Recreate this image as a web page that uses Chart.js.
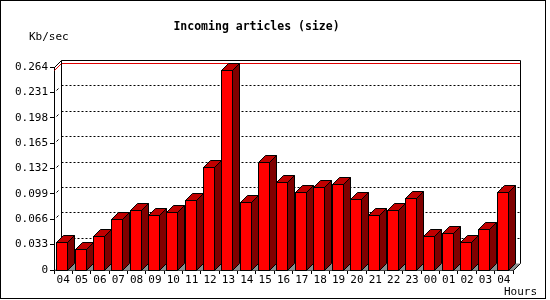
<!DOCTYPE html>
<html>
<head>
<meta charset="utf-8">
<script src="https://cdn.jsdelivr.net/npm/chart.js@4.4.1/dist/chart.umd.min.js"></script>
<style>
html, body { margin: 0; padding: 0; background: #fff; }
#wrap { width: 550px; height: 300px; position: relative; }
</style>
</head>
<body>
<div id="wrap"><canvas id="chart"></canvas></div>
<script>
const chartTitle = "Incoming articles (size)";
const yAxisLabel = "Kb/sec";
const xAxisLabel = "Hours";
const hours = ["04", "05", "06", "07", "08", "09", "10", "11", "12", "13", "14", "15", "16",
    "17", "18", "19", "20", "21", "22", "23", "00", "01", "02", "03", "04"];
const kbPerSec = [0.036, 0.027, 0.044, 0.066, 0.078, 0.071, 0.076, 0.091, 0.134, 0.260, 0.089, 0.141, 0.114,
    0.102, 0.108, 0.112, 0.092, 0.071, 0.078, 0.093, 0.044, 0.048, 0.036, 0.053, 0.101];
const yTicks = [0, 0.033, 0.066, 0.099, 0.132, 0.165, 0.198, 0.231, 0.264];

const DEPTH = 7;
const MONO = "'DejaVu Sans Mono', 'Liberation Mono', monospace";

function poly(ctx, pts, fill) {
    ctx.beginPath();
    ctx.moveTo(pts[0][0], pts[0][1]);
    for (let i = 1; i < pts.length; i++) ctx.lineTo(pts[i][0], pts[i][1]);
    ctx.closePath();
    if (fill) {
        ctx.fillStyle = fill;
        ctx.fill();
    }
    ctx.stroke();
}

function line(ctx, x0, y0, x1, y1) {
    ctx.beginPath();
    ctx.moveTo(x0, y0);
    ctx.lineTo(x1, y1);
    ctx.stroke();
}

// 3d look: back wall, floor, grid and prism bars
const box3d = {
    id: "box3d",
    beforeDraw(chart) {
        const ctx = chart.ctx;
        ctx.save();
        ctx.fillStyle = "#fff";
        ctx.fillRect(0, 0, chart.width, chart.height);
        ctx.strokeStyle = "#000";
        ctx.lineWidth = 1;
        ctx.strokeRect(0.5, 0.5, 545, 298);
        ctx.restore();
    },
    beforeDatasetsDraw(chart) {
        const ctx = chart.ctx;
        const a = chart.chartArea;
        const yScale = chart.scales.y;
        const d = DEPTH;
        const l = Math.round(a.left) + 0.5, r = Math.round(a.right) + 0.5;
        const t = Math.round(a.top) + 0.5, b = Math.round(a.bottom) + 0.5;
        ctx.save();
        ctx.lineWidth = 1;
        ctx.strokeStyle = "#000";
        // floor
        ctx.fillStyle = "#8c8c8c";
        ctx.beginPath();
        ctx.moveTo(l, b);
        ctx.lineTo(l + d, b - d);
        ctx.lineTo(r + d, b - d);
        ctx.lineTo(r, b);
        ctx.closePath();
        ctx.fill();
        line(ctx, r, b, r + d, b - d);
        // grid on back wall and side wall
        yTicks.forEach(v => {
            if (v <= 0 || v >= yScale.max) return;
            const py = Math.round(yScale.getPixelForValue(v)) + 0.5;
            ctx.setLineDash([2, 2]);
            line(ctx, l + d, py - d, r + d, py - d);
            ctx.setLineDash([]);
            line(ctx, l + 2, py - 2, l + 4, py - 4);
        });
        // maximum line
        const maxY = Math.round(yScale.getPixelForValue(Math.max(...kbPerSec))) + 0.5;
        ctx.strokeStyle = "#e00000";
        line(ctx, l, maxY, l + d, maxY - d);
        line(ctx, l + d, maxY - d, r + d, maxY - d);
        // wall edges
        ctx.strokeStyle = "#000";
        line(ctx, l, t, l + d, t - d);
        line(ctx, l + d, t - d, r + d, t - d);
        line(ctx, l + d, t - d, l + d, b - d);
        line(ctx, r + d, t - d, r + d, b - d);
        ctx.restore();
    },
    afterDatasetsDraw(chart) {
        const ctx = chart.ctx;
        const d = DEPTH;
        ctx.save();
        ctx.lineWidth = 1;
        ctx.strokeStyle = "#000";
        chart.getDatasetMeta(0).data.forEach(bar => {
            const p = bar.getProps(["x", "y", "base", "width"], true);
            const l = Math.round(p.x - p.width / 2 - 1.5) + 0.5;
            const r = l + Math.round(p.width);
            const t = Math.round(p.y) + 0.5;
            const b = Math.round(p.base) + 0.5;
            poly(ctx, [[r, t], [r + d, t - d], [r + d, b - d], [r, b]], "#800000");
            poly(ctx, [[l, t], [l + d, t - d], [r + d, t - d], [r, t]], "#c00000");
            ctx.fillStyle = "#ff0000";
            ctx.fillRect(l, t, r - l, b - t);
            ctx.strokeRect(l, t, r - l, b - t);
        });
        ctx.restore();
    },
    afterDraw(chart) {
        const ctx = chart.ctx;
        ctx.save();
        ctx.fillStyle = "#000";
        ctx.font = "11px " + MONO;
        ctx.textBaseline = "middle";
        ctx.textAlign = "left";
        ctx.fillText(yAxisLabel, 29, 37);
        ctx.fillText(xAxisLabel, 504, 292);
        ctx.restore();
    }
};

new Chart(document.getElementById("chart"), {
    type: "bar",
    data: {
        labels: hours,
        datasets: [{
            label: "Kb/sec",
            data: kbPerSec,
            backgroundColor: "rgba(0,0,0,0)",
            borderWidth: 0,
            barPercentage: 0.6,
            categoryPercentage: 1
        }]
    },
    options: {
        responsive: true,
        maintainAspectRatio: false,
        animation: false,
        layout: { padding: { left: 0, right: 37, top: 0, bottom: 0 } },
        plugins: {
            legend: { display: false },
            tooltip: { enabled: false },
            title: {
                display: true,
                text: chartTitle,
                color: "#000",
                font: { family: MONO, size: 11.5, weight: "bold", lineHeight: 1.2 },
                padding: { top: 20, bottom: 33.2 }
            }
        },
        scales: {
            x: {
                offset: true,
                afterFit(scale) { scale.height = 30; },
                border: { display: true, color: "#000", width: 1 },
                grid: { drawOnChartArea: false, drawTicks: true, tickLength: 4, color: "#000", offset: true },
                ticks: {
                    color: "#000",
                    font: { family: MONO, size: 11 },
                    padding: 0,
                    maxRotation: 0,
                    autoSkip: false
                }
            },
            y: {
                min: 0,
                max: 0.264,
                afterFit(scale) { scale.width = 54; },
                afterBuildTicks(scale) { scale.ticks = yTicks.map(v => ({ value: v })); },
                border: { display: true, color: "#000", width: 1 },
                grid: { drawOnChartArea: false, drawTicks: true, tickLength: 4, color: "#000" },
                ticks: {
                    color: "#000",
                    font: { family: MONO, size: 11 },
                    padding: 2,
                    callback: v => (v === 0 ? "0" : v.toFixed(3))
                }
            }
        }
    },
    plugins: [box3d]
});
</script>
</body>
</html>
